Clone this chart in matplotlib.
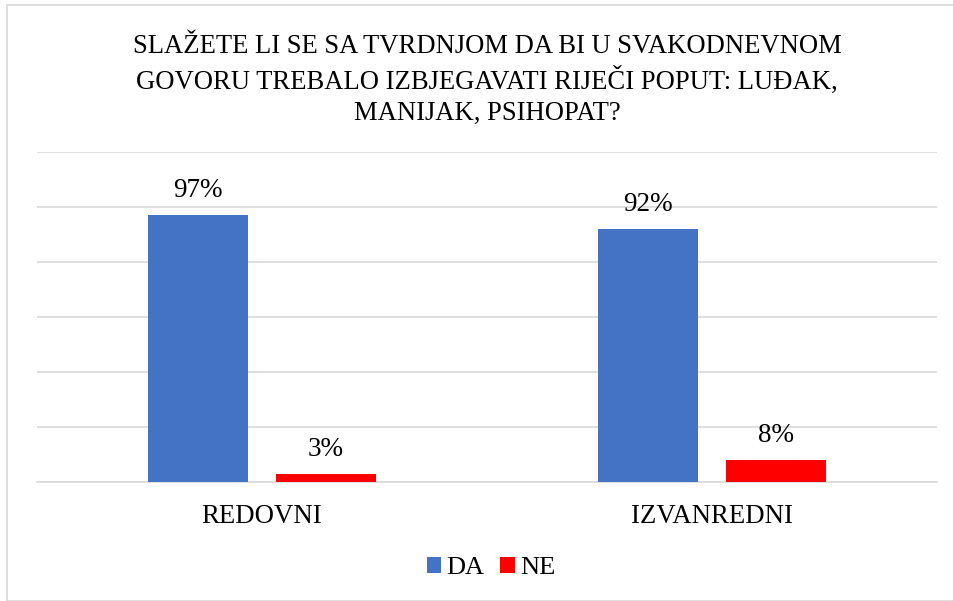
import matplotlib
matplotlib.use("Agg")
import matplotlib.pyplot as plt
import numpy as np
from matplotlib.patches import Rectangle

categories = ["REDOVNI", "IZVANREDNI"]
series_names = ["DA", "NE"]
da_values = [97, 92]
ne_values = [3, 8]
title = "SLAŽETE LI SE SA TVRDNJOM DA BI U SVAKODNEVNOM\nGOVORU TREBALO IZBJEGAVATI RIJEČI POPUT: LUĐAK,\nMANIJAK, PSIHOPAT?"

plt.rcParams['font.family'] = ['Liberation Serif', 'DejaVu Serif']

fig = plt.figure(figsize=(9.54, 6.01), dpi=100)
# chart border
fig.patches.append(Rectangle((7/954, 0), 1.0, 1 - 5/601, transform=fig.transFigure,
                             fill=False, edgecolor='#d9d9d9', linewidth=1.2))

ax = fig.add_axes([37/954, (601-482)/601, 900/954, 330/601])
x = np.arange(len(categories))
w = 0.222
off = 0.142
colors = ['#4472C4', '#FF0000']
b1 = ax.bar(x - off, da_values, w, color=colors[0], label=series_names[0], zorder=3)
b2 = ax.bar(x + off, ne_values, w, color=colors[1], label=series_names[1], zorder=3)
for bars, vals in ((b1, da_values), (b2, ne_values)):
    for r, v in zip(bars, vals):
        ax.text(r.get_x() + r.get_width()/2, v + 6.5, f"{v}%", ha='center', va='baseline',
                fontsize=19.5, color='#000000')

ax.set_xlim(-0.5, 1.5)
ax.set_ylim(0, 120)
ax.set_yticks(np.arange(0, 121, 20))
ax.yaxis.grid(True, color='#d9d9d9', linewidth=1.2, zorder=0)
ax.set_yticklabels([])
ax.tick_params(axis='y', length=0)
ax.tick_params(axis='x', length=0, pad=16, labelsize=19.3)
ax.set_xticks(x)
ax.set_xticklabels(categories)
for s in ['top', 'right', 'left']:
    ax.spines[s].set_visible(False)
ax.spines['bottom'].set_color('#d9d9d9')
ax.spines['bottom'].set_linewidth(1.2)

fig.text(487/954, 1 - 80/601, title, ha='center', va='center', fontsize=19.2,
         linespacing=1.32)

leg = fig.legend(handles=[b1, b2], labels=series_names, loc='center',
                 bbox_to_anchor=(491/954, 1 - 568/601), ncol=2, frameon=False,
                 fontsize=19, handlelength=0.55, handleheight=0.55, handletextpad=0.2,
                 columnspacing=0.6)

fig.savefig("out.png", dpi=100)
